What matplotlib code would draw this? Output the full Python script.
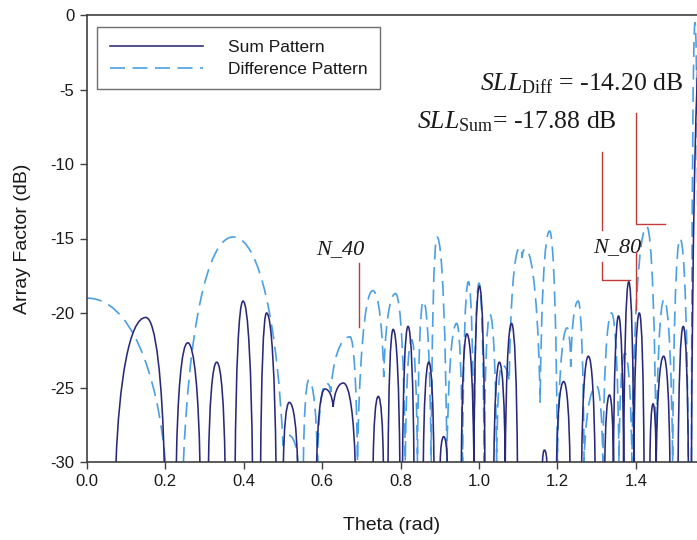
import numpy as np
import matplotlib
matplotlib.use("Agg")
import matplotlib.pyplot as plt
from matplotlib.path import Path
from matplotlib.patches import PathPatch
from matplotlib.lines import Line2D

plt.rcParams['font.family'] = ['Liberation Sans', 'DejaVu Sans']
plt.rcParams['axes.unicode_minus'] = False
plt.rcParams['mathtext.fontset'] = 'custom'
plt.rcParams['mathtext.rm'] = 'Liberation Serif'
plt.rcParams['mathtext.it'] = 'Liberation Serif:italic'

nan = np.nan

# ---- data (theta in rad, array factor in dB) ----
# alternating nulls / peaks of each lobe; nan separates lobes that do not touch
sum_theta = [0.074, 0.150, 0.197, nan,
             0.228, 0.257, 0.288, nan,
             0.310, 0.331, 0.352, nan,
             0.378, 0.398, 0.422, nan,
             0.443, 0.458, 0.482, nan,
             0.501, 0.516, 0.537, nan,
             0.586, 0.607, 0.628, 0.654, 0.684, nan,
             0.730, 0.743, 0.756, nan,
             0.768, 0.781, 0.798, nan,
             0.805, 0.819, 0.834, nan,
             0.858, 0.872, 0.885, nan,
             0.901, 0.910, 0.919, nan,
             0.955, 0.969, 0.987, 1.001, 1.015, nan,
             1.038, 1.052, 1.067, 1.083, 1.098, nan,
             1.162, 1.167, 1.173, nan,
             1.198, 1.216, 1.232, nan,
             1.262, 1.279, 1.296, nan,
             1.321, 1.333, 1.343, 1.356, 1.369, 1.382, 1.395, 1.409, 1.421, nan,
             1.436, 1.444, 1.452, 1.471, 1.487, nan,
             1.508, 1.521, 1.534, nan,
             1.542, 1.5708]
sum_db = [-30, -20.3, -30, nan,
          -30, -22.0, -30, nan,
          -30, -23.3, -30, nan,
          -30, -19.2, -30, nan,
          -30, -20.0, -30, nan,
          -30, -26.0, -30, nan,
          -30, -25.1, -26.3, -24.7, -30, nan,
          -30, -25.6, -30, nan,
          -30, -21.1, -30, nan,
          -30, -20.9, -30, nan,
          -30, -23.3, -30, nan,
          -30, -28.3, -30, nan,
          -30, -21.4, -30, -18.2, -30, nan,
          -30, -23.3, -30, -20.7, -30, nan,
          -30, -29.2, -30, nan,
          -30, -24.6, -30, nan,
          -30, -22.9, -30, nan,
          -30, -25.5, -30, -20.2, -30, -17.9, -30, -20.0, -30, nan,
          -30, -26.1, -30, -22.9, -30, nan,
          -30, -20.9, -30, nan,
          -30, 0.0]

diff_theta = [0.000, 0.200, nan,
              0.246, 0.373, 0.500, 0.514, 0.538, nan,
              0.552, 0.566, 0.588, 0.610, 0.622, 0.671, 0.690, 0.729, 0.757,
              0.787, 0.812, 0.828, 0.843, 0.858, 0.878, 0.893, 0.918, 0.943,
              0.958, 0.973, 0.987, 1.000, 1.013, 1.028, 1.045, 1.058, 1.077,
              1.104, 1.110, 1.118, 1.156, 1.180, 1.200, 1.225, 1.234, 1.253,
              1.268, 1.300, 1.316, 1.338, 1.357, 1.372, 1.390, 1.428, 1.452,
              1.472, 1.494, 1.513, 1.534, nan,
              1.542, 1.551, 1.560]
diff_db = [-19.0, -30, nan,
           -30, -14.9, -28.9, -28.2, -30, nan,
           -30, -24.5, -30, -24.7, -25.3, -21.6, -30, -18.5, -24.3,
           -18.7, -30, -21.8, -30, -19.2, -30, -14.9, -30, -20.7,
           -30, -17.9, -30, -18.0, -30, -20.1, -30, -23.5, -24.6,
           -15.6, -16.3, -15.7, -26.0, -14.5, -30, -21.0, -23.6, -19.2,
           -30, -24.9, -30, -20.0, -30, -22.7, -30, -14.2, -30,
           -19.1, -30, -15.0, -30, nan,
           -30, -0.5, -30]

xtick_vals = [0.0, 0.2, 0.4, 0.6, 0.8, 1.0, 1.2, 1.4]
ytick_vals = [0, -5, -10, -15, -20, -25, -30]

SUM_COLOR = '#2a2878'
DIFF_COLOR = '#4b9fe4'
RED = '#c23a3a'


def lobe_path(xs, ys):
    """Smooth path through the read nulls/peaks (horizontal tangent at peaks)."""
    xs = np.asarray(xs, float)
    ys = np.asarray(ys, float)
    verts, codes = [], []
    breaks = np.where(np.isnan(xs))[0]
    starts = np.concatenate(([0], breaks + 1))
    ends = np.concatenate((breaks, [len(xs)]))
    for s, e in zip(starts, ends):
        px, py = xs[s:e], ys[s:e]
        n = len(px)
        peak = []
        for i in range(n):
            lo = py[i - 1] if i > 0 else -np.inf
            hi = py[i + 1] if i < n - 1 else -np.inf
            peak.append(py[i] > lo and py[i] > hi)
        verts.append((px[0], py[0]))
        codes.append(Path.MOVETO)
        for i in range(n - 1):
            xa, ya, xb, yb = px[i], py[i], px[i + 1], py[i + 1]
            dx = xb - xa
            if peak[i]:
                c1 = (xa + 0.55 * dx, ya)
            else:
                c1 = (xa + 0.10 * dx, ya + 0.55 * (yb - ya))
            if peak[i + 1]:
                c2 = (xb - 0.55 * dx, yb)
            else:
                c2 = (xb - 0.10 * dx, yb + 0.55 * (ya - yb))
            verts += [c1, c2, (xb, yb)]
            codes += [Path.CURVE4] * 3
    return Path(verts, codes)


fig = plt.figure(figsize=(6.97, 5.40), dpi=100)
ax = fig.add_axes([87 / 697, 1 - 462 / 540, 610 / 697, 447 / 540])

dash = (0, (9, 4.5))
ax.add_patch(PathPatch(lobe_path(diff_theta, diff_db), fill=False,
                       edgecolor=DIFF_COLOR, lw=1.2, linestyle=dash,
                       capstyle='butt', zorder=2))
ax.add_patch(PathPatch(lobe_path(sum_theta, sum_db), fill=False,
                       edgecolor=SUM_COLOR, lw=1.15, zorder=3))

ax.set_xlim(0, 610 / 392)
ax.set_ylim(-30, 0)
ax.set_xticks(xtick_vals)
ax.set_xticklabels([f'{v:.1f}' for v in xtick_vals])
ax.set_yticks(ytick_vals)
ax.set_yticklabels([str(v) for v in ytick_vals])
ax.tick_params(direction='out', length=5, width=1.0, color='#404040',
               labelsize=12, pad=4, labelcolor='#1a1a1a')
for side in ('left', 'bottom', 'top'):
    ax.spines[side].set_color('#404040')
    ax.spines[side].set_linewidth(1.2)
ax.spines['right'].set_visible(False)

ax.set_xlabel('Theta (rad)', fontsize=14, labelpad=20, color='#1a1a1a')
ax.set_ylabel('Array Factor (dB)', fontsize=14, labelpad=14, color='#1a1a1a')

handles = [Line2D([], [], color=SUM_COLOR, lw=1.15),
           Line2D([], [], color=DIFF_COLOR, lw=1.2, linestyle=dash)]
leg = ax.legend(handles, ['Sum Pattern', 'Difference Pattern'],
                loc='upper left', bbox_to_anchor=(10 / 610, 1 - 12 / 447),
                borderaxespad=0, fontsize=12.5, handlelength=5.36,
                handletextpad=1.44, borderpad=0.72, labelspacing=0.4,
                fancybox=False, framealpha=1, edgecolor='#6e6e6e')
leg.get_frame().set_linewidth(1.0)
for t in leg.get_texts():
    t.set_color('#1a1a1a')

# ---- annotations ----
serif = ['Liberation Serif', 'DejaVu Serif']
ax.text(0.647, -16.05, 'N_40', fontsize=16, family=serif, style='italic',
        ha='center', va='baseline', color='#1a1a1a')
ax.text(1.352, -15.9, 'N_80', fontsize=16, family=serif, style='italic',
        ha='center', va='baseline', color='#1a1a1a')
ax.text(1.0026, -5.03, r'$SLL_{\mathrm{Diff}}$ = -14.20 dB', fontsize=18.5,
        family=serif, ha='left', va='baseline', color='#1a1a1a')
ax.text(0.842, -7.58, r'$SLL_{\mathrm{Sum}}$= -17.88 dB', fontsize=18.5,
        family=serif, ha='left', va='baseline', color='#1a1a1a')

leader_lines = [
    ([0.694, 0.694], [-16.64, -20.94]),
    ([1.4005, 1.4005, 1.4745], [-6.58, -14.03, -14.03]),
    ([1.313, 1.313], [-9.19, -14.43]),
    ([1.313, 1.313, 1.385], [-16.58, -17.79, -17.79]),
    ([1.4005, 1.4005], [-15.9, -19.8]),
]
for lx, ly in leader_lines:
    ax.plot(lx, ly, color=RED, lw=1.0, zorder=4)

fig.savefig('out.png', dpi=100)
